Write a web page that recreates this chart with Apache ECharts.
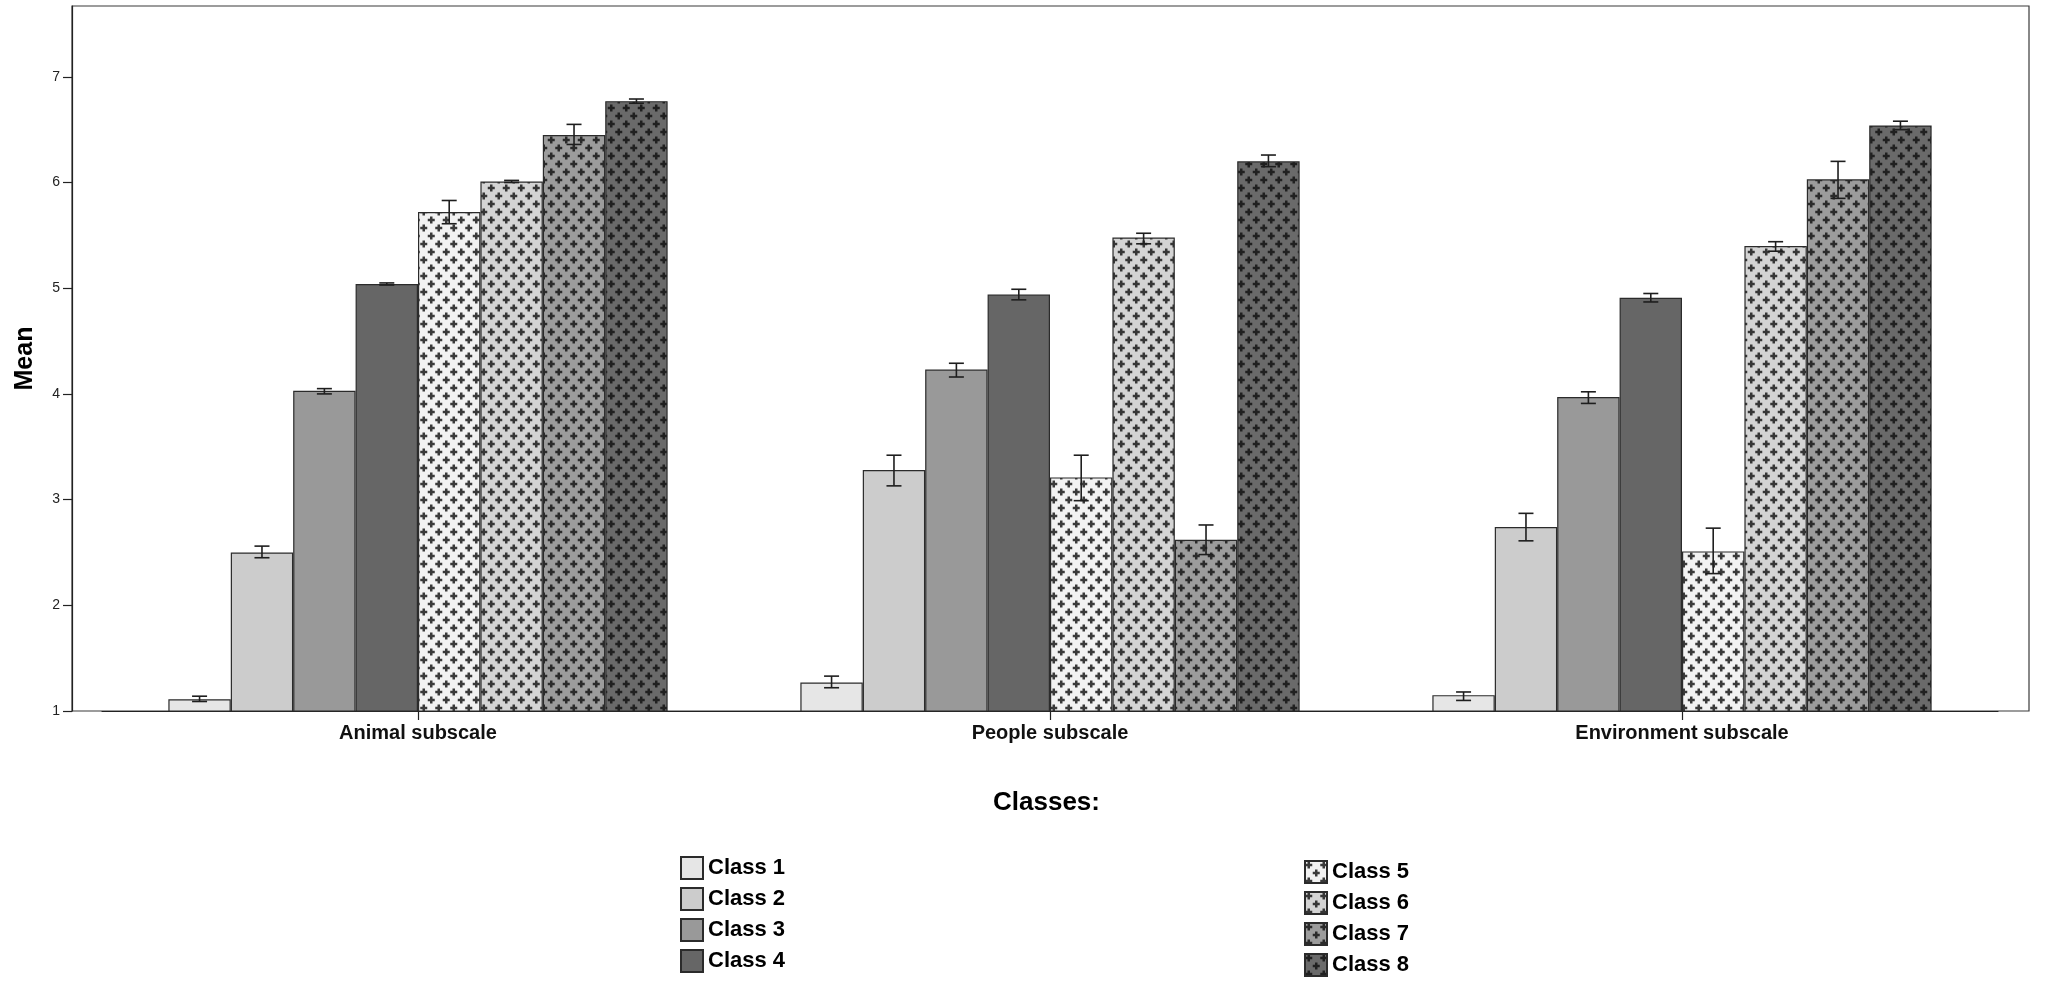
<!DOCTYPE html>
<html lang="en">

<head>
  <meta charset="UTF-8">
  <title>Mean by class</title>
  <script src="https://cdn.jsdelivr.net/npm/echarts@6.0.0/dist/echarts.min.js"></script>
  <style>
    html, body { margin: 0; padding: 0; background: #fff; }
    #main { width: 2055px; height: 986px; }
  </style>
</head>

<body>
  <div id="main"></div>

  <script>
    // data
    var categories = ['Animal subscale', 'People subscale', 'Environment subscale']
    var classNames = ['Class 1', 'Class 2', 'Class 3', 'Class 4', 'Class 5', 'Class 6', 'Class 7', 'Class 8']
    var yTicks = [1, 2, 3, 4, 5, 6, 7]

    // means, one value per class
    var animalMean = [1.11, 2.50, 4.03, 5.04, 5.72, 6.01, 6.45, 6.77]
    var peopleMean = [1.27, 3.28, 4.23, 4.94, 3.21, 5.48, 2.62, 6.20]
    var envMean    = [1.15, 2.74, 3.97, 4.91, 2.51, 5.40, 6.03, 6.54]

    // error bar ends
    var animalLow  = [1.09, 2.45, 4.00, 5.03, 5.61, 6.00, 6.36, 6.75]
    var animalHigh = [1.14, 2.56, 4.05, 5.05, 5.83, 6.02, 6.55, 6.79]
    var peopleLow  = [1.22, 3.13, 4.16, 4.89, 2.99, 5.42, 2.48, 6.15]
    var peopleHigh = [1.33, 3.42, 4.29, 4.99, 3.42, 5.52, 2.76, 6.26]
    var envLow     = [1.10, 2.61, 3.91, 4.87, 2.30, 5.35, 5.85, 6.50]
    var envHigh    = [1.18, 2.87, 4.02, 4.95, 2.73, 5.44, 6.20, 6.58]

    var solidColors = ['#e6e6e6', '#cccccc', '#999999', '#666666']
    var patternBg = ['#f2f2f2', '#d4d4d4', '#9c9c9c', '#6a6a6a']
    var patternFg = ['#3a3a3a', '#363636', '#2a2a2a', '#202020']

    var catGap = 0.21

    // little tile with dark crosses on a diagonal lattice
    function makePattern(bg, fg) {
      var w = 15, h = 16
      var c = document.createElement('canvas')
      c.width = w
      c.height = h
      var g = c.getContext('2d')
      g.fillStyle = bg
      g.fillRect(0, 0, w, h)
      g.fillStyle = fg
      var centers = [[3.75, 4], [11.25, 12], [-3.75, 12], [18.75, 4], [3.75, 20], [11.25, -4]]
      centers.forEach(function (p) {
        g.fillRect(p[0] - 1.25, p[1] - 3.5, 2.5, 7)
        g.fillRect(p[0] - 3.5, p[1] - 1.25, 7, 2.5)
      })
      return { image: c, repeat: 'repeat' }
    }

    var mCharts = echarts.init(document.getElementById('main'))

    var series = []
    classNames.forEach(function (name, k) {
      var fill = k < 4 ? solidColors[k] : makePattern(patternBg[k - 4], patternFg[k - 4])
      series.push({
        name: name,
        type: 'bar',
        xAxisIndex: 1,
        yAxisIndex: 1,
        barGap: '0%',
        barCategoryGap: (catGap * 100) + '%',
        data: [animalMean[k], peopleMean[k], envMean[k]],
        itemStyle: {
          color: fill,
          borderColor: '#2b2b2b',
          borderWidth: 1.2
        },
        emphasis: { disabled: true },
        animation: false
      })
    })

    // error bars, drawn on top of the bars
    classNames.forEach(function (name, k) {
      series.push({
        name: 'err' + (k + 1),
        type: 'custom',
        xAxisIndex: 1,
        yAxisIndex: 1,
        z: 5,
        data: [
          [0, animalLow[k], animalHigh[k]],
          [1, peopleLow[k], peopleHigh[k]],
          [2, envLow[k], envHigh[k]]
        ],
        renderItem: function (params, api) {
          var cat = api.value(0)
          var lo = api.coord([cat, api.value(1)])
          var hi = api.coord([cat, api.value(2)])
          var band = api.size([1, 0])[0]
          var bw = band * (1 - catGap) / classNames.length
          var x = lo[0] + (k - 3.5) * bw
          var half = 7.5
          var st = { stroke: '#1e1e1e', lineWidth: 1.6 }
          return {
            type: 'group',
            children: [
              { type: 'line', shape: { x1: x, y1: lo[1], x2: x, y2: hi[1] }, style: st },
              { type: 'line', shape: { x1: x - half, y1: lo[1], x2: x + half, y2: lo[1] }, style: st },
              { type: 'line', shape: { x1: x - half, y1: hi[1], x2: x + half, y2: hi[1] }, style: st }
            ]
          }
        },
        animation: false
      })
    })

    var legendText = {
      fontFamily: 'Liberation Sans, Arial, sans-serif',
      fontWeight: 'bold',
      fontSize: 22,
      color: '#000',
      lineHeight: 22
    }

    function legendBlock(names, left, top) {
      return {
        data: names,
        orient: 'vertical',
        left: left,
        top: top,
        bottom: 0,
        padding: 0,
        itemWidth: 22,
        itemHeight: 22,
        itemGap: 7,
        icon: 'rect',
        selectedMode: false,
        textStyle: legendText
      }
    }

    var option = {
      backgroundColor: '#fff',
      animation: false,
      textStyle: { fontFamily: 'Liberation Sans, Arial, sans-serif' },
      grid: [
        // frame + y axis
        { left: 72, right: 26, top: 6, bottom: 275, show: true, borderColor: '#3a3a3a', borderWidth: 1.2, backgroundColor: 'transparent' },
        // plotting area, inset like the SPSS layout
        { left: 102, right: 57, top: 6, bottom: 275 }
      ],
      xAxis: [
        { type: 'value', gridIndex: 0, show: false, min: 0, max: 1 },
        {
          type: 'category',
          gridIndex: 1,
          data: categories,
          axisLine: { show: true, lineStyle: { color: '#222', width: 1.2 } },
          axisTick: { show: true, alignWithLabel: true, length: 9, lineStyle: { color: '#222', width: 1.2 } },
          axisLabel: { color: '#111', fontSize: 20, fontWeight: 'bold', margin: 12 },
          splitLine: { show: false }
        }
      ],
      yAxis: [
        {
          type: 'value',
          gridIndex: 0,
          min: 1,
          max: 7.67,
          interval: 1,
          name: 'Mean',
          nameLocation: 'middle',
          nameGap: 34,
          nameTextStyle: { fontSize: 25, fontWeight: 'bold', color: '#000' },
          axisLine: { show: true, lineStyle: { color: '#222', width: 1.2 } },
          axisTick: { show: true, length: 9, customValues: yTicks, lineStyle: { color: '#222', width: 1.2 } },
          axisLabel: {
            customValues: yTicks,
            fontSize: 14,
            color: '#222',
            margin: 12,
            fontFamily: 'Liberation Sans Narrow, Liberation Sans, Arial, sans-serif',
            formatter: function (v) { return Number.isInteger(v) ? String(v) : '' }
          },
          splitLine: { show: false }
        },
        { type: 'value', gridIndex: 1, min: 1, max: 7.67, show: false, splitLine: { show: false } }
      ],
      legend: [
        legendBlock(classNames.slice(0, 4), 680, 856),
        legendBlock(classNames.slice(4), 1304, 860)
      ],
      graphic: [
        {
          type: 'text',
          left: 993,
          top: 790,
          style: {
            text: 'Classes:',
            fontSize: 26,
            fontWeight: 'bold',
            fill: '#000',
            fontFamily: 'Liberation Sans, Arial, sans-serif'
          }
        }
      ],
      series: series
    }

    mCharts.setOption(option)
  </script>
</body>

</html>
